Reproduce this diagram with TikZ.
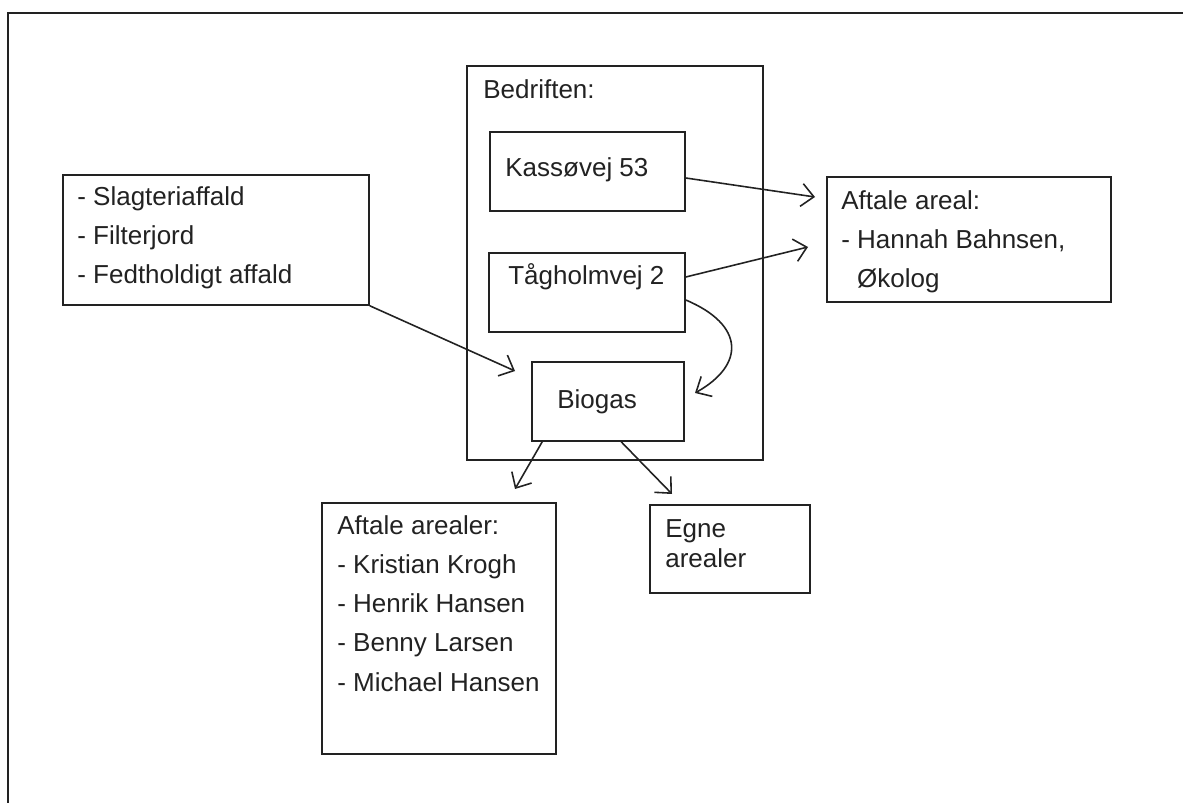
\documentclass[tikz,border=0pt]{standalone}
\usepackage{fontspec}
\setmainfont{Liberation Sans}
\usetikzlibrary{arrows.meta,fit,calc}
\definecolor{ink}{HTML}{222222}
\begin{document}
\begin{tikzpicture}[x=0.02cm,y=-0.02cm,
  box/.style={draw=ink,line width=0.9pt,inner sep=0pt,rectangle},
  txt/.style={text=ink,inner sep=0pt,anchor=base west,align=left,
    font=\fontsize{14.8}{22.2}\selectfont},
  txtb/.style={txt,font=\fontsize{14.8}{17}\selectfont},
  arr/.style={draw=ink,line width=0.9pt,-{Straight Barb[length=7pt,width=13pt,line width=0.9pt]}}]
\useasboundingbox (0,0) rectangle (1183,803);
\fill[white] (0,0) rectangle (1183,803);
% outer frame (left and top edges only)
\draw[ink,line width=1pt] (8,803) -- (8,13) -- (1183,13);
% boxes
\node[box,fit={(467,66) (763,460)}] (bed) {};
\node[box,fit={(490,132) (685,211)}] (kass) {};
\node[box,fit={(489,253) (685,332)}] (tag) {};
\node[box,fit={(532,362) (684,441)}] (bio) {};
\node[box,fit={(63,175) (369,305)}] (slag) {};
\node[box,fit={(827,177) (1111,302)}] (aft) {};
\node[box,fit={(322,503) (556,754)}] (afts) {};
\node[box,fit={(650,505) (810,593)}] (egne) {};
% texts (multi-line nodes: base = baseline of last line)
\node[txt] (tbed) at (483,99) {Bedriften:};
\node[txt] (tkass) at (505,177) {Kassøvej 53};
\node[txt] (ttag) at (508,285) {Tågholmvej 2};
\node[txt] (tbio) at (557,409) {Biogas};
\node[txt] (tslag) at (77,284) {- Slagteriaffald\\- Filterjord\\- Fedtholdigt affald};
\node[txt] (taft) at (841,288) {Aftale areal:\\- Hannah Bahnsen,\\\hphantom{- }Økolog};
\node[txt] (tafts) at (337,691) {Aftale arealer:\\- Kristian Krogh\\- Henrik Hansen\\- Benny Larsen\\- Michael Hansen};
\node[txtb] (tegne) at (665,567) {Egne\\arealer};
% free arrow ends
\coordinate (e1) at (815,197);
\coordinate (e2) at (808,247);
\coordinate (e3) at (695,393);
\coordinate (e4) at (515,371);
\coordinate (e5) at (515,489);
\coordinate (e6) at (672,494);
% connectors
\draw[arr] ([yshift=-0.13cm]kass.east) -- (e1);
\draw[arr] ([yshift=0.31cm]tag.east) -- (e2);
\draw[arr] ([yshift=-0.15cm]tag.east) .. controls (745,325) and (745,365) .. (e3);
\draw[arr] (slag.south east) -- (e4);
\draw[arr] ([xshift=0.22cm]bio.south west) -- (e5);
\draw[arr] ([xshift=1.8cm]bio.south west) -- (e6);
\end{tikzpicture}
\end{document}
